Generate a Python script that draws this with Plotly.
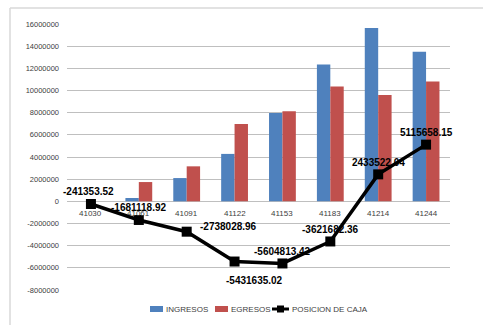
import plotly.graph_objects as go

# Monthly cash flow data
periodos = ["41030", "41061", "41091", "41122", "41153", "41183", "41214", "41244"]
ingresos = [0, 300000, 2100000, 4280000, 7960000, 12350000, 15650000, 13500000]
egresos = [0, 1739765.40, 3156910.04, 6973606.06, 8133178.40, 10366868.94, 9594795.60, 10817863.89]
posicion_caja = [-241353.52, -1681118.92, -2738028.96, -5431635.02, -5604813.42,
                 -3621682.36, 2433522.04, 5115658.15]
y_ticks = [16000000, 14000000, 12000000, 10000000, 8000000, 6000000, 4000000,
           2000000, 0, -2000000, -4000000, -6000000, -8000000]
series_names = ["INGRESOS", "EGRESOS", "POSICION DE CAJA"]

# Label offsets (px) for each cash-position value
label_dx = [-2, 0, 42, 20, 0, 0, 0, 0]
label_dy = [13, 12, 5, -19, 12, 12, 12, 12]

BLUE = "#4F81BD"
RED = "#C0504D"
FONT = "Liberation Sans, Arial"
TXT = "#404040"

# Plot-area geometry (px) used to place the hand-drawn legend and frame
W, H = 483, 325
L, R, T, B = 67, 33, 24, 35
PW, PH = W - L - R, H - T - B


def px(x):
    return (x - L) / PW


def py(y):
    return (H - B - y) / PH


fig = go.Figure()
fig.add_trace(go.Bar(x=periodos, y=ingresos, name=series_names[0], marker_color=BLUE,
                     marker_line_width=0))
fig.add_trace(go.Bar(x=periodos, y=egresos, name=series_names[1], marker_color=RED,
                     marker_line_width=0))
fig.add_trace(go.Scatter(x=periodos, y=posicion_caja, name=series_names[2],
                         mode="lines+markers",
                         line=dict(color="black", width=3.5),
                         marker=dict(symbol="square", size=10, color="black")))

annotations = []
for i, (v, dx, dy) in enumerate(zip(posicion_caja, label_dx, label_dy)):
    annotations.append(dict(x=i, y=v, text=f"<b>{v:.2f}</b>", showarrow=False,
                            xshift=dx, yshift=dy,
                            font=dict(family=FONT, size=10, color="black"),
                            xanchor="center", yanchor="middle"))

# Category labels sit along the zero line
for i, p in enumerate(periodos):
    annotations.append(dict(x=i, y=0, text=p, showarrow=False, yanchor="top",
                            yshift=-6,
                            font=dict(family=FONT, size=8, color=TXT)))

# Legend row below the plot
leg_y = 309
shapes = [
    dict(type="rect", xref="paper", yref="paper", x0=px(150), x1=px(163),
         y0=py(312), y1=py(306), fillcolor=BLUE, line_width=0),
    dict(type="rect", xref="paper", yref="paper", x0=px(215), x1=px(228),
         y0=py(312), y1=py(306), fillcolor=RED, line_width=0),
    dict(type="line", xref="paper", yref="paper", x0=px(272), x1=px(289),
         y0=py(leg_y), y1=py(leg_y), line=dict(color="black", width=3)),
    dict(type="rect", xref="paper", yref="paper", x0=px(277), x1=px(284),
         y0=py(leg_y + 3.5), y1=py(leg_y - 3.5), fillcolor="black", line_width=0),
]
for name, x0 in zip(series_names, [164, 229, 290]):
    annotations.append(dict(xref="paper", yref="paper", x=px(x0), y=py(leg_y),
                            text=name, showarrow=False, xanchor="left",
                            yanchor="middle",
                            font=dict(family=FONT, size=8, color=TXT)))

# Outer frame: left and top edges of the chart area
shapes += [
    dict(type="line", xref="paper", yref="paper", x0=px(10), x1=px(W + 5),
         y0=py(8), y1=py(8), line=dict(color="#d9d9d9", width=1.5)),
    dict(type="line", xref="paper", yref="paper", x0=px(10), x1=px(10),
         y0=py(8), y1=py(H + 5), line=dict(color="#d9d9d9", width=1.5)),
]

fig.update_layout(
    width=W, height=H,
    margin=dict(l=L, r=R, t=T, b=B, autoexpand=False),
    paper_bgcolor="white", plot_bgcolor="white",
    barmode="group", bargap=0.44, bargroupgap=0,
    font=dict(family=FONT, size=8, color=TXT),
    annotations=annotations,
    shapes=shapes,
    showlegend=False,
)

fig.update_xaxes(type="category", range=[-0.5, len(periodos) - 0.5],
                 showticklabels=False, showgrid=False,
                 zeroline=False, showline=False, ticks="")
fig.update_yaxes(range=[-8000000, 16000000], tickvals=y_ticks,
                 ticktext=[str(t) for t in y_ticks],
                 showgrid=True, gridcolor="#bfbfbf", gridwidth=1,
                 zeroline=True, zerolinecolor="#bfbfbf", zerolinewidth=1,
                 showline=False, ticks="", ticklabelstandoff=7,
                 tickfont=dict(family=FONT, size=7.5, color=TXT))

fig.write_html("out.html")
